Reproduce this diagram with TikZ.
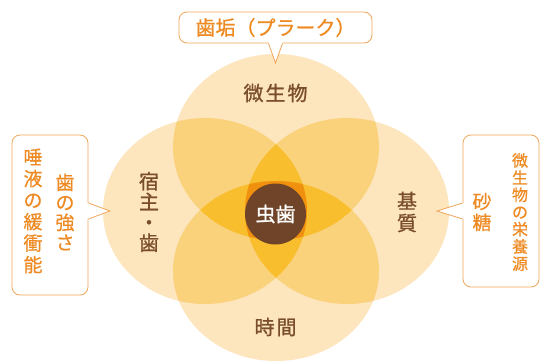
\documentclass[tikz,border=0pt]{standalone}
\usepackage{fontspec}
\newfontfamily\cjk{Noto Sans CJK JP}[FakeBold=0.6]
\newfontfamily\cjkm{Noto Sans CJK JP}[FakeBold=1.0]
\usetikzlibrary{calc}
\definecolor{layA}{HTML}{FDE5BD}
\definecolor{layB}{HTML}{FAD27B}
\definecolor{layC}{HTML}{F8BE2D}
\definecolor{layD}{HTML}{F0900F}
\definecolor{cariesbrown}{HTML}{6F4428}
\definecolor{labelbrown}{HTML}{7A4D2C}
\definecolor{calltext}{HTML}{EE8A22}
\definecolor{callline}{HTML}{F0A65A}
\def\eT{(276,147) ellipse [x radius=103pt, y radius=93pt]}
\def\eB{(276,271) ellipse [x radius=103pt, y radius=90pt]}
\def\eL{(205,211) ellipse [x radius=102pt, y radius=93pt]}
\def\eR{(347,211) ellipse [x radius=102pt, y radius=93pt]}
\begin{document}
\begin{tikzpicture}[x=1pt,y=-1pt,
  lbl/.style={font=\cjkm\fontsize{20}{22}\selectfont, text=labelbrown, inner sep=0pt, align=center},
  callbox/.style={draw=callline, line width=0.8pt, rounded corners=8pt, fill=white, inner sep=0pt},
  calltxt/.style={text=calltext, inner sep=0pt, align=center},
  pointer/.style={draw=callline, line width=0.8pt, line join=miter}]
\useasboundingbox (0,0) rectangle (549,362);
\fill[white] (0,0) rectangle (549,362);
% one layer
\fill[layA] \eT; \fill[layA] \eB; \fill[layA] \eL; \fill[layA] \eR;
% two layers
\begin{scope}\clip \eT; \fill[layB] \eL; \fill[layB] \eR; \fill[layB] \eB; \end{scope}
\begin{scope}\clip \eB; \fill[layB] \eL; \fill[layB] \eR; \end{scope}
\begin{scope}\clip \eL; \fill[layB] \eR; \end{scope}
% three layers
\begin{scope}\clip \eT; \clip \eB; \fill[layC] \eL; \fill[layC] \eR; \end{scope}
\begin{scope}\clip \eL; \clip \eR; \fill[layC] \eT; \fill[layC] \eB; \end{scope}
% four layers
\begin{scope}\clip \eT; \clip \eB; \clip \eL; \fill[layD] \eR; \end{scope}
% centre
\node[circle, fill=cariesbrown, minimum size=61pt, inner sep=0pt, text=white,
      font=\cjkm\fontsize{20}{22}\selectfont] (caries) at (275.5,214) {虫歯};
% circle labels
\node[lbl] (microbe) at (275.5,93) {微\hspace{2pt}生\hspace{2pt}物};
\node[lbl] (time) at (275.5,327) {時\hspace{2pt}間};
\node[lbl, font=\cjkm\fontsize{20}{20.5}\selectfont] (host) at (149,212) {宿\\主\\・\\歯};
\node[lbl, font=\cjkm\fontsize{20}{22}\selectfont] (subst) at (407,212) {基\\質};
% top callout
\node[callbox, minimum width=193pt, minimum height=31pt] (plaquebox) at (275.5,27.5) {};
\coordinate (plaquetip) at (275.5,63);
\fill[white] ($(plaquebox.south)+(-7,-1.5)$) -- ($(plaquebox.south)+(-7,0)$) -- (plaquetip)
  -- ($(plaquebox.south)+(7,0)$) -- ($(plaquebox.south)+(7,-1.5)$) -- cycle;
\draw[pointer] ($(plaquebox.south)+(-7,0)$) -- (plaquetip) -- ($(plaquebox.south)+(7,0)$);
\node[calltxt, font=\cjk\fontsize{20}{22}\selectfont] (plaque) at (275.5,27.5) {歯垢（プラーク）};
% left callout
\node[callbox, minimum width=76pt, minimum height=160pt] (hostbox) at (50,215) {};
\coordinate (hosttip) at (110,211);
\fill[white] ($(hostbox.east)+(-1.5,-12)$) -- ($(hostbox.east)+(0,-12)$) -- (hosttip)
  -- ($(hostbox.east)+(0,4)$) -- ($(hostbox.east)+(-1.5,4)$) -- cycle;
\draw[pointer] ($(hostbox.east)+(0,-12)$) -- (hosttip) -- ($(hostbox.east)+(0,4)$);
\node[calltxt, font=\cjk\fontsize{19}{20}\selectfont] (toothstr) at (65,212) {歯\\の\\強\\さ};
\node[calltxt, font=\cjk\fontsize{19}{21.5}\selectfont] (saliva) at (33,211) {唾\\液\\の\\緩\\衝\\能};
% right callout
\node[callbox, minimum width=76pt, minimum height=152pt] (substbox) at (501,211) {};
\coordinate (substtip) at (437,211);
\fill[white] ($(substbox.west)+(1.5,-8)$) -- ($(substbox.west)+(0,-8)$) -- (substtip)
  -- ($(substbox.west)+(0,8)$) -- ($(substbox.west)+(1.5,8)$) -- cycle;
\draw[pointer] ($(substbox.west)+(0,-8)$) -- (substtip) -- ($(substbox.west)+(0,8)$);
\node[calltxt, font=\cjk\fontsize{19}{21}\selectfont] (sugar) at (482,212) {砂\\糖};
\node[calltxt, font=\cjk\fontsize{16}{17.2}\selectfont] (nutrient) at (520,212) {微\\生\\物\\の\\栄\\養\\源};
\end{tikzpicture}
\end{document}
